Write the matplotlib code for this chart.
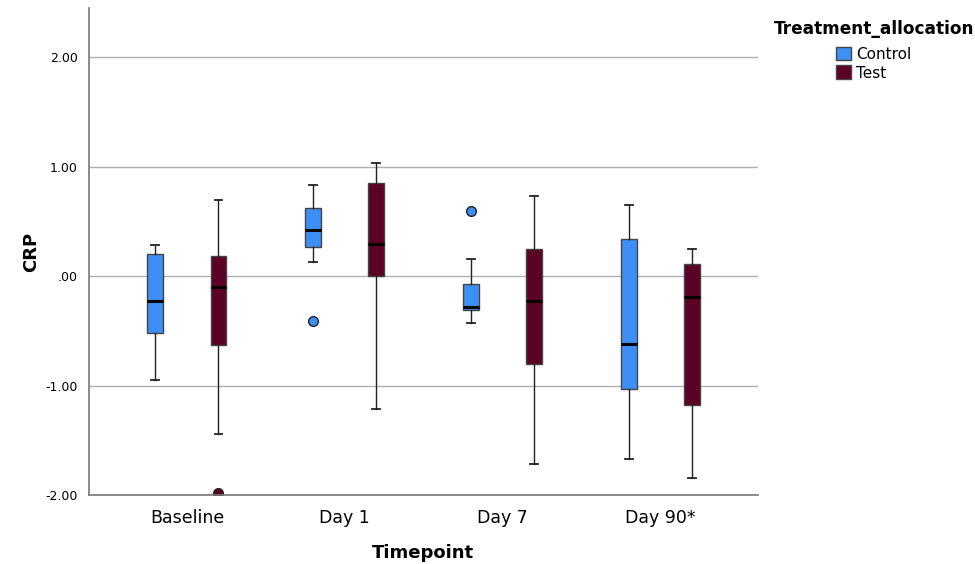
import matplotlib.pyplot as plt
from matplotlib.patches import Patch

# values (CRP, standardised)
timepoints = ['Baseline', 'Day 1', 'Day 7', 'Day 90*']
groups = ['Control', 'Test']
colors = {'Control': '#3d8ef5', 'Test': '#5c0025'}

# per timepoint: whisker low, q1, median, q3, whisker high
control_low = [-0.95, 0.125, -0.43, -1.67]
control_q1 = [-0.52, 0.265, -0.31, -1.03]
control_med = [-0.23, 0.42, -0.28, -0.62]
control_q3 = [0.20, 0.625, -0.076, 0.335]
control_high = [0.28, 0.83, 0.153, 0.647]
control_fliers = [[], [-0.41], [0.595], []]

test_low = [-1.44, -1.21, -1.72, -1.84]
test_q1 = [-0.63, 0.0, -0.805, -1.18]
test_med = [-0.10, 0.29, -0.23, -0.195]
test_q3 = [0.18, 0.855, 0.244, 0.113]
test_high = [0.70, 1.03, 0.73, 0.244]
test_fliers = [[-1.98], [], [], []]

yticks = [-2, -1, 0, 1, 2]
ytick_labels = ['-2.00', '-1.00', '.00', '1.00', '2.00']


def make_stats(low, q1, med, q3, high, fliers):
    return [dict(whislo=a, q1=b, med=c, q3=d, whishi=e, fliers=f)
            for a, b, c, d, e, f in zip(low, q1, med, q3, high, fliers)]


def main():
    fig = plt.figure(figsize=(9.75, 5.64), dpi=100)
    ax = fig.add_axes([0.0913, 0.1223, 0.6857, 0.8635])

    series = {
        'Control': make_stats(control_low, control_q1, control_med,
                              control_q3, control_high, control_fliers),
        'Test': make_stats(test_low, test_q1, test_med,
                           test_q3, test_high, test_fliers),
    }
    offsets = {'Control': -0.2, 'Test': 0.2}

    for g in groups:
        pos = [i + offsets[g] for i in range(len(timepoints))]
        ax.bxp(series[g], positions=pos, widths=0.1, patch_artist=True,
               manage_ticks=False,
               boxprops=dict(facecolor=colors[g], edgecolor='#444444', linewidth=1),
               medianprops=dict(color='black', linewidth=2.2),
               whiskerprops=dict(color='#222222', linewidth=1),
               capprops=dict(color='#222222', linewidth=1.3),
               capwidths=0.05,
               flierprops=dict(marker='o', markerfacecolor=colors[g],
                               markeredgecolor='#222222', markersize=7,
                               markeredgewidth=1))

    ax.set_xlim(-0.62, 3.615)
    ax.set_ylim(-2, 2.45)
    ax.set_xticks(range(len(timepoints)))
    ax.set_xticklabels(timepoints, fontsize=12.5)
    ax.set_yticks(yticks)
    ax.set_yticklabels(ytick_labels, fontsize=9)
    ax.tick_params(length=0, pad=8)
    ax.tick_params(axis='x', pad=10)
    ax.yaxis.grid(True, color='#b0b0b0', linewidth=1)
    ax.set_axisbelow(True)
    for s in ['top', 'right']:
        ax.spines[s].set_visible(False)
    for s in ['left', 'bottom']:
        ax.spines[s].set_color('#777777')
        ax.spines[s].set_linewidth(1.2)

    ax.set_xlabel('Timepoint', fontsize=13, fontweight='bold', labelpad=12)
    ax.set_ylabel('CRP', fontsize=13, fontweight='bold', labelpad=4)

    handles = [Patch(facecolor=colors[g], edgecolor='#444444', label=g) for g in groups]
    leg = fig.legend(handles=handles, title='Treatment_allocation',
                     loc='upper left', bbox_to_anchor=(0.787, 0.975),
                     frameon=False, fontsize=11, title_fontsize=12.2,
                     handlelength=1.0, handleheight=1.0, handletextpad=0.3,
                     labelspacing=0.25, borderaxespad=0)
    leg.get_title().set_fontweight('bold')
    leg._legend_box.align = 'center'
    leg._legend_box.sep = 6

    fig.savefig('out.png', dpi=100)
    plt.close(fig)


if __name__ == '__main__':
    main()
